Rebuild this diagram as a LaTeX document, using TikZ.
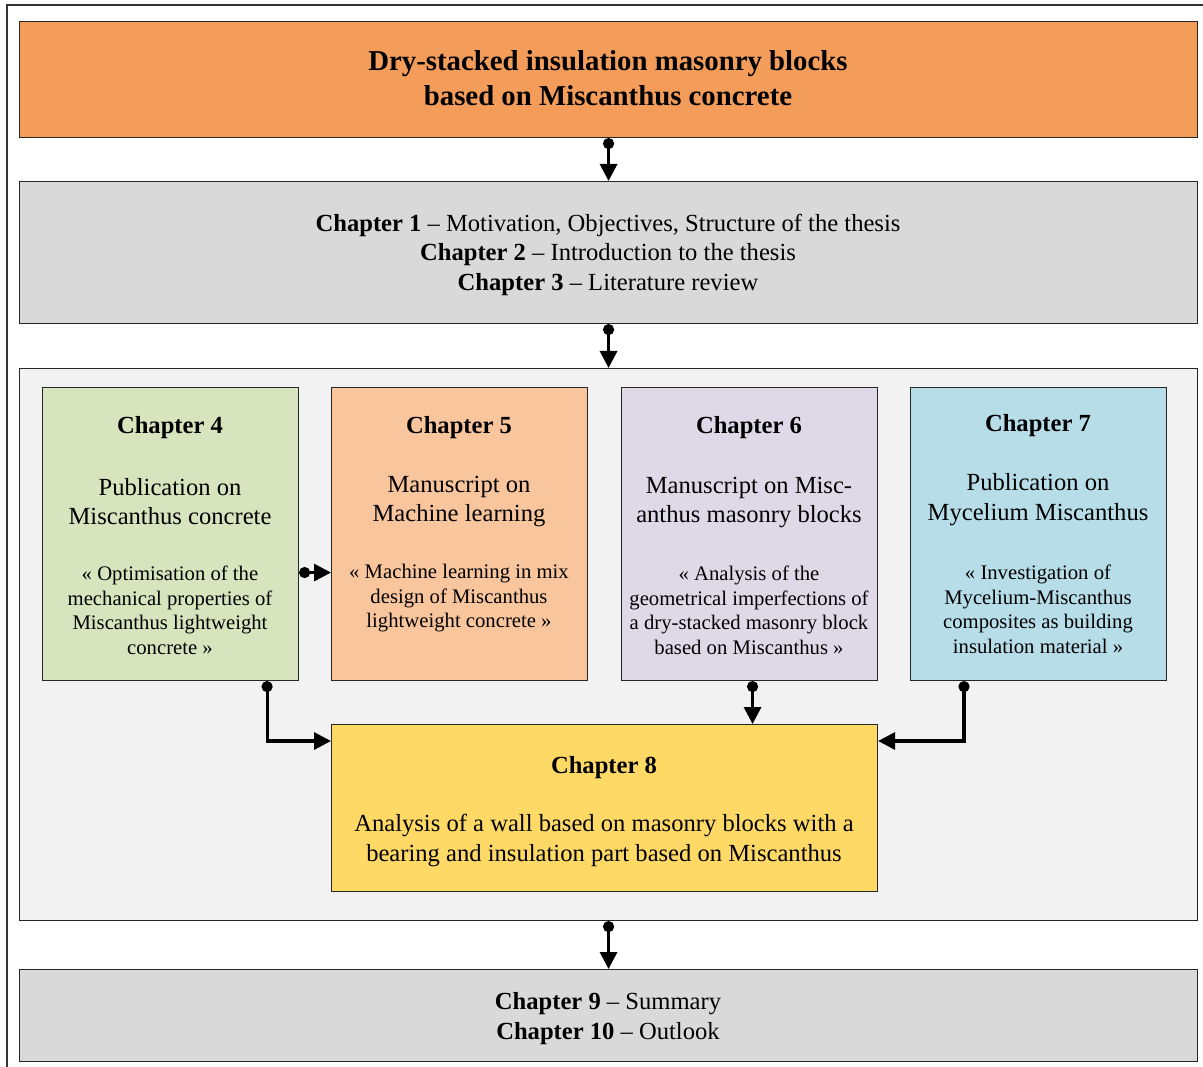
\documentclass[tikz,border=0pt]{standalone}
\usepackage{fontspec}
\setmainfont{Liberation Serif}
\usetikzlibrary{arrows.meta,calc}
\definecolor{topor}{HTML}{F49D5A}
\definecolor{grayb}{HTML}{D9D9D9}
\definecolor{contb}{HTML}{F2F2F2}
\definecolor{greenb}{HTML}{D8E4BD}
\definecolor{orb}{HTML}{F9C59C}
\definecolor{lavb}{HTML}{DFD9E7}
\definecolor{blueb}{HTML}{B7DDE8}
\definecolor{yelb}{HTML}{FFD966}
\tikzset{
  box/.style={draw=black!85,line width=1.1pt,rectangle,inner sep=0pt,anchor=north west},
  txt/.style={align=center,inner sep=0pt,yshift=-2.5pt},
  titletxt/.style={align=center,inner sep=0pt,font=\fontsize{28.8}{35}\selectfont\bfseries},
  maintxt/.style={txt,font=\fontsize{24.6}{29.5}\selectfont},
  headtxt/.style={txt,font=\fontsize{24.6}{29.5}\selectfont\bfseries},
  quotetxt/.style={txt,font=\fontsize{20.7}{24.5}\selectfont},
  conn/.style={line width=3.2pt,{Circle[length=11pt]}-{Triangle[length=17pt,width=17pt]}},
}
\begin{document}
\begin{tikzpicture}[x=1pt,y=-1pt]
\useasboundingbox (0,0) rectangle (1203,1067);
\clip (0,0) rectangle (1203,1067);
% outer frame (cut by page)
\draw[black!80,line width=1.3pt] (7,1080) -- (7,5) -- (1215,5);
% boxes
\node[box,fill=topor,minimum width=1178pt,minimum height=116pt] (top) at (19,21) {};
\node[box,fill=grayb,minimum width=1178pt,minimum height=142pt] (intro) at (19,181) {};
\node[box,fill=contb,minimum width=1178pt,minimum height=552pt] (cont) at (19,368) {};
\node[box,fill=greenb,minimum width=256pt,minimum height=293pt] (c4) at (42,387) {};
\node[box,fill=orb,minimum width=256pt,minimum height=293pt] (c5) at (331,387) {};
\node[box,fill=lavb,minimum width=256pt,minimum height=293pt] (c6) at (621,387) {};
\node[box,fill=blueb,minimum width=256pt,minimum height=293pt] (c7) at (910,387) {};
\node[box,fill=yelb,minimum width=546pt,minimum height=167pt] (c8) at (331,724) {};
\node[box,fill=grayb,minimum width=1178pt,minimum height=92pt] (sum) at (19,969) {};
% texts
\node[titletxt] (ttop) at (608,78.5) {Dry-stacked insulation masonry blocks\\based on Miscanthus concrete};
\node[maintxt] (tintro) at (608,252) {\textbf{Chapter 1} -- Motivation, Objectives, Structure of the thesis\\\textbf{Chapter 2} -- Introduction to the thesis\\\textbf{Chapter 3} -- Literature review};
\node[maintxt] (tsum) at (608,1016) {\textbf{Chapter 9} -- Summary\\\textbf{Chapter 10} -- Outlook};
% chapter 4
\node[headtxt] (h4) at (170,425) {Chapter 4};
\node[maintxt] (s4) at (170,499) {Publication on\\Miscanthus concrete};
\node[quotetxt] (q4) at (170,608) {« Optimisation of the\\mechanical properties of\\Miscanthus lightweight\\concrete »};
% chapter 5
\node[headtxt] (h5) at (459,425) {Chapter 5};
\node[maintxt] (s5) at (459,499) {Manuscript on\\Machine learning};
\node[quotetxt] (q5) at (459,596) {« Machine learning in mix\\design of Miscanthus\\lightweight concrete »};
% chapter 6
\node[headtxt] (h6) at (749,425) {Chapter 6};
\node[maintxt] (s6) at (749,500) {Manuscript on Misc-\\anthus masonry blocks};
\node[quotetxt] (q6) at (749,608) {« Analysis of the\\geometrical imperfections of\\a dry-stacked masonry block\\based on Miscanthus »};
% chapter 7
\node[headtxt] (h7) at (1038,423) {Chapter 7};
\node[maintxt] (s7) at (1038,497) {Publication on\\Mycelium Miscanthus};
\node[quotetxt] (q7) at (1038,607) {« Investigation of\\Mycelium-Miscanthus\\composites as building\\insulation material »};
% chapter 8
\node[headtxt] (h8) at (604,765) {Chapter 8};
\node[maintxt] (s8) at (604,838) {Analysis of a wall based on masonry blocks with a\\bearing and insulation part based on Miscanthus};
% connectors
\draw[conn] (top.south) -- (intro.north);
\draw[conn] (intro.south) -- (cont.north);
\draw[conn] ([yshift=-38.5pt]c4.east) -- ([yshift=-38.5pt]c5.west);
\draw[conn] ([xshift=-32pt]c4.south east) |- ([yshift=-17pt]c8.north west);
\draw[conn] ([xshift=3pt]c6.south) -- ([xshift=3pt]c6.south |- c8.north);
\draw[conn] ([xshift=54pt]c7.south west) |- ([yshift=-17pt]c8.north east);
\draw[conn] (cont.south) -- (sum.north);
\end{tikzpicture}
\end{document}
